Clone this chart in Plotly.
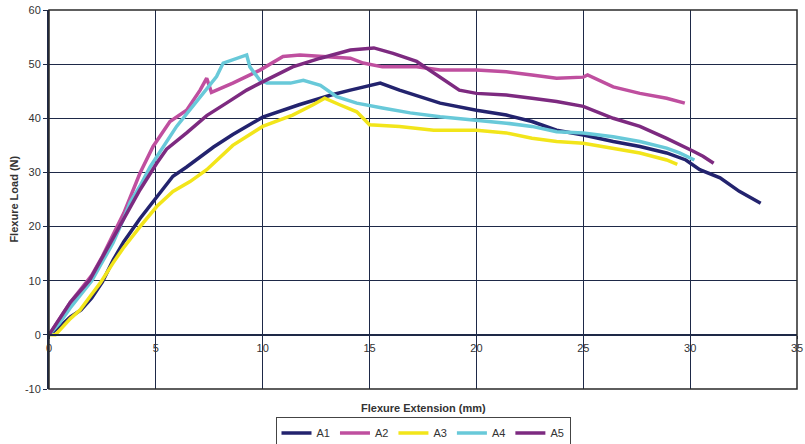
import plotly.graph_objects as go

# ---- data ----
a1_x = [0, 0.5, 1, 1.5, 2, 2.5, 3, 3.5, 4.26, 5, 5.8, 6.44, 7.7, 8.6, 10, 11.7, 13.2, 14.1, 15, 15.5,
        16.4, 17.35, 18.3, 20, 21.4, 22.6, 23.75, 25, 26.4, 27.65, 28.9, 29.8, 30.45, 31.4, 32.3, 33.3]
a1_y = [0, 1.5, 3.3, 4.6, 6.8, 9.8, 13.8, 17.2, 21.5, 25.3, 29.3, 31.0, 34.7, 37.0, 40.2, 42.5, 44.3, 45.2, 46.1, 46.5,
        45.2, 44.0, 42.8, 41.5, 40.6, 39.4, 37.8, 36.9, 35.7, 34.8, 33.6, 32.3, 30.5, 29.0, 26.5, 24.3]

a2_x = [0, 0.5, 1, 1.5, 2, 2.5, 3, 3.5, 4.26, 4.87, 5.66, 6.44, 7.07, 7.38, 7.6, 8.6, 9.87, 10.95, 11.74,
        12.8, 14.1, 14.7, 15.6, 17.2, 18.3, 20, 21.4, 22.6, 23.75, 25, 25.2, 26.4, 27.65, 28.9, 29.75]
a2_y = [0, 3, 6, 8.5, 11, 14.5, 18.5, 22.5, 29.9, 34.8, 39.4, 41.5, 45.2, 47.4, 44.8, 46.5, 48.9, 51.4, 51.7,
        51.4, 51.1, 50.2, 49.5, 49.5, 48.9, 48.9, 48.6, 48.0, 47.4, 47.6, 48.0, 45.8, 44.6, 43.7, 42.8]

a3_x = [0, 0.3, 1, 1.45, 2, 2.4, 3, 3.47, 4.26, 5.04, 5.8, 6.6, 7.38, 8.3, 8.6, 10, 11.4, 12.36, 12.9,
        13.6, 14.4, 14.7, 15, 16.4, 18, 20, 21.4, 22.6, 23.75, 25, 26.4, 27.65, 28.9, 29.4]
a3_y = [0, 0, 3.0, 4.6, 7.5, 9.6, 13.3, 16.0, 20.0, 23.7, 26.5, 28.3, 30.5, 34.0, 35.0, 38.5, 40.6, 42.5, 43.7,
        42.5, 41.2, 40.0, 38.8, 38.5, 37.8, 37.8, 37.3, 36.3, 35.7, 35.4, 34.5, 33.6, 32.3, 31.5]

a4_x = [0, 0.5, 1, 1.5, 2, 2.5, 3, 3.5, 3.8, 4.26, 4.73, 5.97, 7.07, 7.84, 8.15, 8.6, 9.25, 9.4, 9.87,
        10.2, 11.3, 11.9, 12.7, 13.46, 14.4, 15.6, 16.9, 18.3, 20, 21.4, 22.6, 23.75, 25, 26.4, 27.65,
        28.9, 29.5, 30.2]
a4_y = [0, 2.2, 5.0, 7.5, 10.0, 13.5, 17.0, 21.5, 24.5, 27.5, 31.0, 38.5, 44.0, 47.7, 50.2, 50.8, 51.7, 49.5, 47.0,
        46.5, 46.5, 47.0, 46.1, 44.0, 42.8, 41.9, 41.0, 40.3, 39.7, 39.1, 38.5, 37.5, 37.3, 36.6, 35.7,
        34.5, 33.6, 32.3]

a5_x = [0, 0.5, 1, 1.9, 2.7, 3.47, 4.26, 5.04, 5.5, 6.44, 7.06, 7.38, 8.3, 8.6, 9.25, 10.18, 11.4, 12.7,
        14.1, 15.2, 16.1, 17.2, 18.3, 19.2, 20, 21.4, 22.6, 23.75, 25, 26.4, 27.65, 28.9, 30.1, 30.6, 31.1]
a5_y = [0, 3, 6, 10.1, 15.7, 21.2, 26.8, 31.7, 34.3, 37.3, 39.5, 40.5, 42.8, 43.5, 45.2, 47.1, 49.5, 51.1,
        52.6, 53.0, 52.0, 50.5, 47.5, 45.2, 44.6, 44.3, 43.7, 43.1, 42.2, 40.0, 38.5, 36.3, 34.0, 33.0, 31.7]

series_names = ["A1", "A2", "A3", "A4", "A5"]
series_x = [a1_x, a2_x, a3_x, a4_x, a5_x]
series_y = [a1_y, a2_y, a3_y, a4_y, a5_y]
colors = ["#23236e", "#bf4f9f", "#f2e51a", "#68c9d9", "#7d2a80"]

x_ticks = [0, 5, 10, 15, 20, 25, 30, 35]
y_ticks = [-10, 0, 10, 20, 30, 40, 50, 60]
y_tick_labels = ["-10", "0", "10", "20", "30", "40", "50", "60"]

FONT = "Liberation Sans, Arial, sans-serif"
GRID = "#1e2947"
TXT = "#333333"

fig = go.Figure()
for name, xs, ys, c in zip(series_names, series_x, series_y, colors):
    fig.add_trace(go.Scatter(x=xs, y=ys, mode="lines", name=name,
                             line=dict(color=c, width=3.5)))

fig.update_layout(
    width=805, height=444,
    margin=dict(l=49, r=8, t=10, b=55, autoexpand=False),
    paper_bgcolor="white", plot_bgcolor="white",
    font=dict(family=FONT, size=11, color=TXT),
    showlegend=True,
    legend=dict(orientation="h", x=0.5, xanchor="center", y=-0.075, yanchor="top",
                bordercolor="#444444", borderwidth=1, font=dict(size=11, color=TXT),
                itemwidth=30, tracegroupgap=0),
    xaxis=dict(range=[0, 35], tickvals=x_ticks, showgrid=True, gridcolor=GRID, gridwidth=1,
               anchor="free", position=1/7, showline=True, linecolor=GRID, linewidth=2,
               ticks="outside", ticklen=3, tickcolor=GRID, zeroline=False, automargin=False,
               tickfont=dict(size=11, color=TXT)),
    yaxis=dict(range=[-10, 60], tickvals=y_ticks, ticktext=y_tick_labels, showgrid=True,
               gridcolor=GRID, gridwidth=1,
               showline=True, linecolor=GRID, linewidth=2, zeroline=False, automargin=False,
               ticks="outside", ticklen=4, tickcolor=GRID,
               tickfont=dict(size=11, color=TXT)),
    shapes=[dict(type="rect", xref="paper", yref="paper", x0=0, x1=1, y0=0, y1=1,
                 line=dict(color="#2a2a2a", width=1.5), layer="above")],
    annotations=[
        dict(text="<b>Flexure Extension (mm)</b>", xref="paper", yref="paper", x=0.5, y=-0.05,
             xanchor="center", yanchor="middle", showarrow=False, font=dict(size=11, color=TXT)),
        dict(text="<b>Flexure Load (N)</b>", xref="paper", yref="paper", x=-0.048, y=0.5,
             xanchor="center", yanchor="middle", textangle=-90, showarrow=False,
             font=dict(size=11, color=TXT)),
    ],
)

# remove the default 8px page margin so the figure sits at the window's top-left corner
fig.write_html("out.html", config={"displayModeBar": False},
               post_script="document.body.style.margin='0';")
